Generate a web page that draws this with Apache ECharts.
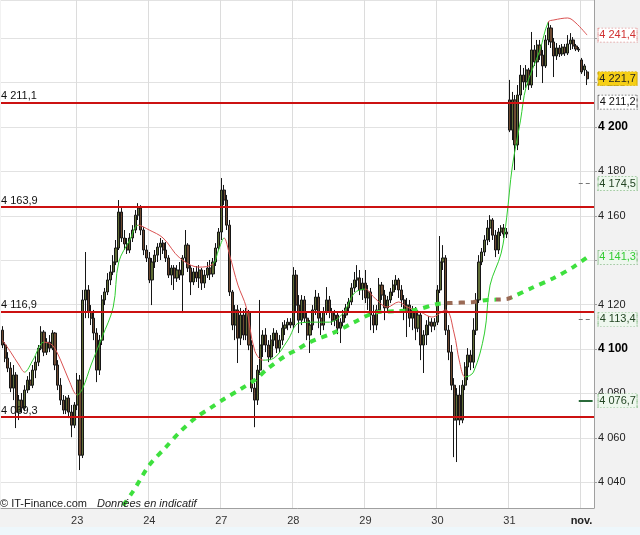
<!DOCTYPE html>
<html><head><meta charset="utf-8">
<script src="https://cdn.jsdelivr.net/npm/echarts@6/dist/echarts.min.js"></script>
<style>html,body{margin:0;padding:0;background:#f2f2f2}#c{width:640px;height:535px}</style>
</head><body><div id="c"></div>
<script>
// ---- data ----
const xLabels = ['23','24','27','28','29','30','31','nov.'];
const slotsPerDay = [27,26,26,26,26,26,26,26,5];
// [open, close, low, high]
const candles = [
[4108.5,4101.8,4100.4,4110.3],[4101.8,4095.9,4094.1,4103.1],[4095.9,4091.4,4089.6,4098.6],[4091.4,4082.4,4080.6,4094.1],
[4082.4,4088.3,4077.0,4092.8],[4088.3,4071.6,4064.4,4089.6],[4071.6,4077.0,4068.0,4079.3],[4077.0,4073.4,4071.2,4080.2],
[4073.4,4081.5,4072.0,4083.7],[4081.5,4086.0,4080.2,4087.8],[4086.0,4083.7,4081.5,4089.6],[4083.7,4090.5,4082.4,4092.8],
[4090.5,4094.1,4086.9,4096.8],[4094.1,4100.4,4092.3,4101.8],[4100.4,4107.6,4099.5,4110.3],[4107.6,4098.6,4096.8,4108.5],
[4098.6,4103.1,4097.3,4104.9],[4103.1,4100.4,4098.6,4106.3],[4100.4,4107.2,4099.5,4108.5],[4107.2,4092.8,4090.5,4107.6],
[4092.8,4083.7,4081.5,4095.0],[4083.7,4077.0,4074.8,4086.9],[4077.0,4072.5,4070.7,4079.3],[4072.5,4077.9,4070.7,4078.8],
[4077.9,4071.6,4068.9,4079.3],[4071.6,4065.7,4060.3,4074.8],[4065.7,4074.8,4064.4,4076.1],
// 23
[4074.8,4086.0,4072.5,4089.2],[4086.0,4052.2,4045.5,4088.3],[4052.2,4122.1,4050.9,4126.6],[4122.1,4126.6,4113.9,4143.7],
[4126.6,4116.6,4113.9,4128.8],[4116.6,4113.9,4110.8,4119.8],[4113.9,4107.2,4104.0,4117.6],[4107.2,4090.5,4085.1,4109.4],
[4090.5,4104.0,4088.3,4106.3],[4104.0,4122.1,4101.8,4124.3],[4122.1,4125.7,4119.8,4127.5],[4125.7,4131.1,4124.3,4134.2],
[4131.1,4134.7,4128.8,4137.8],[4134.7,4139.2,4133.3,4142.3],[4139.2,4145.5,4137.8,4149.1],[4145.5,4161.7,4144.6,4167.1],
[4161.7,4150.0,4148.2,4163.5],[4150.0,4147.3,4144.6,4153.6],[4147.3,4144.6,4142.8,4150.0],[4144.6,4150.0,4143.2,4152.2],
[4150.0,4153.6,4148.2,4155.8],[4153.6,4160.3,4152.2,4162.6],[4160.3,4163.5,4158.1,4165.7],[4163.5,4153.6,4151.3,4164.8],
[4153.6,4144.6,4142.3,4154.9],[4144.6,4141.0,4139.2,4146.8],
// 24
[4141.0,4131.1,4129.7,4143.7],[4131.1,4139.2,4119.8,4141.0],[4139.2,4142.3,4136.5,4144.6],[4142.3,4145.9,4139.2,4147.7],
[4145.9,4147.7,4140.1,4150.0],[4147.7,4144.6,4142.8,4149.1],[4144.6,4141.0,4139.2,4148.2],[4141.0,4133.3,4132.0,4142.3],
[4133.3,4136.5,4128.8,4137.8],[4136.5,4132.0,4126.6,4137.8],[4132.0,4135.6,4130.2,4137.8],[4135.6,4133.3,4131.1,4139.2],
[4133.3,4141.0,4116.2,4142.3],[4141.0,4146.8,4139.2,4153.6],[4146.8,4136.5,4134.7,4147.7],[4136.5,4130.2,4124.3,4137.8],
[4130.2,4134.7,4128.8,4136.5],[4134.7,4132.0,4130.2,4137.4],[4132.0,4135.6,4127.5,4137.8],[4135.6,4129.7,4126.6,4136.5],
[4129.7,4133.3,4127.5,4135.6],[4133.3,4136.5,4132.0,4139.2],[4136.5,4133.8,4131.1,4140.1],[4133.8,4139.2,4132.4,4141.0],
[4139.2,4145.5,4137.4,4147.7],[4145.5,4152.7,4144.6,4154.5],
// 27
[4152.7,4171.6,4149.1,4177.0],[4171.6,4167.1,4164.8,4173.9],[4167.1,4155.8,4153.6,4169.4],[4155.8,4125.7,4123.9,4158.1],
[4125.7,4110.8,4108.5,4126.6],[4110.8,4117.6,4104.0,4119.8],[4117.6,4104.9,4093.7,4119.8],[4104.9,4115.3,4101.8,4118.5],
[4115.3,4106.3,4104.0,4117.6],[4106.3,4116.6,4104.0,4118.5],[4116.6,4101.8,4099.5,4117.6],[4101.8,4082.4,4080.6,4104.0],
[4082.4,4077.0,4064.8,4084.7],[4077.0,4090.5,4074.8,4092.8],[4090.5,4101.8,4088.3,4122.1],[4101.8,4106.3,4096.4,4108.5],
[4106.3,4101.8,4098.6,4109.4],[4101.8,4096.4,4094.1,4104.0],[4096.4,4104.0,4095.0,4106.3],[4104.0,4107.2,4101.3,4109.4],
[4107.2,4100.4,4098.2,4108.5],[4100.4,4104.0,4098.6,4106.3],[4104.0,4109.4,4101.8,4112.1],[4109.4,4110.8,4106.3,4113.0],
[4110.8,4112.1,4108.5,4113.9],[4112.1,4110.8,4109.4,4113.9],
// 28
[4110.8,4133.3,4109.4,4136.9],[4133.3,4119.8,4116.2,4135.6],[4119.8,4113.0,4107.2,4124.3],[4113.0,4122.1,4110.8,4124.3],
[4122.1,4113.9,4112.1,4123.9],[4113.9,4106.3,4104.0,4116.6],[4106.3,4110.8,4098.2,4113.0],[4110.8,4117.6,4108.5,4119.8],
[4117.6,4123.4,4115.3,4126.6],[4123.4,4113.9,4109.4,4125.2],[4113.9,4110.8,4106.3,4116.6],[4110.8,4116.6,4108.5,4118.9],
[4116.6,4122.1,4115.3,4127.9],[4122.1,4116.6,4113.9,4123.9],[4116.6,4113.0,4110.8,4118.5],[4113.0,4115.3,4110.3,4117.6],
[4115.3,4109.4,4106.7,4116.6],[4109.4,4112.1,4102.7,4113.9],[4112.1,4115.3,4110.3,4117.6],[4115.3,4118.5,4113.9,4120.3],
[4118.5,4121.2,4116.6,4123.0],[4121.2,4127.5,4119.8,4129.7],[4127.5,4131.1,4125.7,4134.7],[4131.1,4132.0,4127.9,4137.8],
[4132.0,4126.6,4124.3,4135.6],[4126.6,4129.7,4122.1,4132.0],
// 29
[4129.7,4123.0,4120.7,4135.6],[4123.0,4125.7,4117.6,4128.8],[4125.7,4115.3,4108.5,4127.5],[4115.3,4110.8,4107.2,4119.8],
[4110.8,4117.6,4108.5,4119.8],[4117.6,4128.8,4116.2,4132.0],[4128.8,4124.3,4122.1,4130.2],[4124.3,4118.5,4113.0,4126.6],
[4118.5,4122.1,4116.6,4123.9],[4122.1,4125.7,4120.7,4127.5],[4125.7,4128.8,4123.9,4131.1],[4128.8,4131.1,4126.6,4133.3],
[4131.1,4126.6,4123.0,4132.0],[4126.6,4122.1,4118.9,4128.8],[4122.1,4116.6,4113.0,4124.3],[4116.6,4119.8,4105.4,4123.0],
[4119.8,4113.9,4109.9,4122.1],[4113.9,4117.6,4108.5,4119.4],[4117.6,4109.4,4104.0,4118.9],[4109.4,4115.3,4107.6,4117.6],
[4115.3,4101.8,4095.0,4116.6],[4101.8,4106.3,4089.2,4108.5],[4106.3,4110.8,4101.8,4113.0],[4110.8,4112.1,4106.3,4114.8],
[4112.1,4110.3,4107.6,4113.9],[4110.3,4112.1,4108.5,4113.9],
// 30
[4112.1,4126.6,4110.8,4128.8],[4126.6,4139.2,4125.2,4150.9],[4139.2,4141.0,4135.6,4146.8],[4141.0,4108.5,4106.3,4142.3],
[4108.5,4098.6,4095.0,4110.8],[4098.6,4083.7,4081.5,4101.8],[4083.7,4068.0,4051.3,4086.9],[4068.0,4079.3,4049.1,4082.4],
[4079.3,4068.0,4065.7,4083.7],[4068.0,4083.7,4066.6,4086.0],[4083.7,4091.9,4081.5,4094.1],[4091.9,4097.3,4086.0,4100.4],
[4097.3,4094.1,4090.5,4099.5],[4094.1,4108.5,4091.4,4113.9],[4108.5,4122.1,4106.3,4125.2],[4122.1,4139.2,4120.7,4142.3],
[4139.2,4143.7,4137.8,4145.5],[4143.7,4149.1,4141.9,4151.3],[4149.1,4154.5,4146.8,4158.1],[4154.5,4158.1,4148.2,4160.3],
[4158.1,4151.3,4149.1,4159.0],[4151.3,4144.6,4141.4,4153.6],[4144.6,4152.7,4142.8,4154.5],[4152.7,4154.5,4150.9,4155.8],
[4154.5,4151.8,4150.0,4156.3],[4151.8,4152.7,4150.0,4154.5],
// 31
[4212.2,4198.6,4197.7,4221.2],[4198.6,4212.2,4194.1,4215.8],[4212.2,4191.9,4180.6,4214.4],[4191.9,4214.4,4189.6,4218.9],
[4214.4,4223.4,4212.2,4227.9],[4223.4,4220.3,4216.7,4226.6],[4220.3,4225.7,4217.6,4227.9],[4225.7,4218.9,4216.7,4226.6],
[4218.9,4234.7,4217.6,4242.8],[4234.7,4229.3,4227.5,4236.9],[4229.3,4236.9,4222.5,4239.2],[4236.9,4232.4,4230.2,4239.2],
[4232.4,4227.5,4219.8,4234.7],[4227.5,4239.2,4226.6,4241.4],[4239.2,4244.6,4236.9,4247.3],[4244.6,4238.3,4235.6,4245.9],
[4238.3,4232.0,4222.5,4240.1],[4232.0,4235.6,4230.2,4237.8],[4235.6,4232.9,4231.5,4236.9],[4232.9,4236.0,4232.0,4237.4],
[4236.0,4233.3,4232.0,4237.4],[4233.3,4237.4,4232.4,4241.4],[4237.4,4239.2,4234.7,4242.3],[4239.2,4236.5,4235.1,4240.5],
[4236.5,4235.1,4234.2,4237.4],[4235.1,4234.7,4233.8,4236.0],
// nov. 3
[4230.2,4224.8,4223.9,4231.1],[4225.7,4227.5,4223.0,4228.4],[4224.8,4221.7,4218.9,4225.7]
];
// short moving average, [slot, value]
const maShort = [
[0,4104.0],[3,4098.6],[6,4092.8],[8,4089.6],[11,4095.0],[15,4103.1],[18,4101.8],[21,4095.0],[24,4086.0],[27,4079.3],
[29,4082.4],[32,4092.8],[36,4105.4],[40,4118.9],[42,4139.2],[46,4149.1],[49,4155.8],[53,4153.6],[58,4150.0],[64,4141.0],
[71,4136.9],[76,4138.3],[78,4144.6],[80,4150.0],[82,4142.3],[85,4128.8],[88,4118.9],[91,4099.5],[94,4095.0],[98,4095.9],
[103,4104.0],[107,4111.7],[113,4112.1],[118,4112.1],[123,4116.2],[127,4125.2],[131,4127.0],[134,4123.4],[139,4118.9],
[143,4121.2],[146,4118.9],[151,4116.6],[155,4114.4],[160,4117.6],[163,4107.2],[165,4094.1],[167,4087.4],[170,4089.6],
[174,4107.2],[176,4128.8],[180,4143.2],[182,4159.4],[184,4182.0],[187,4203.1],[189,4218.0],[194,4234.7],[197,4247.3],
[199,4248.2],[204,4249.1],[207,4246.8],[211,4241.4]
];
// long moving average, [slot, value]
const maLong = [
[41,4025.2],[47,4035.6],[53,4047.7],[59,4055.8],[64,4062.6],[70,4069.3],[75,4073.4],[80,4077.5],[86,4082.0],[91,4086.0],
[96,4091.4],[102,4096.8],[106,4099.5],[111,4103.1],[120,4107.6],[127,4112.1],[134,4116.2],[142,4117.1],[149,4117.6],
[157,4120.3],[161,4120.7],[170,4121.2],[175,4122.1],[182,4122.5],[184,4123.4],[191,4127.5],[199,4132.0],[206,4136.9],[211,4141.3]
];
const levels = [4211.1, 4163.9, 4116.9, 4069.3];
const sideValues = [4241.4, 4221.7, 4211.2, 4174.5, 4141.3, 4113.4, 4076.7];

// ---- styles ----
const sideStyles = [
 {bg:'#ffffff', border:'#e39a9a', text:'#d03030'},
 {bg:'#f6cf16', border:'#c9a200', text:'#222'},
 {bg:'#ffffff', border:'#666666', text:'#111'},
 {bg:'#eef7ee', border:'#8cbf8c', text:'#224422'},
 {bg:'#eef7ee', border:'#8cbf8c', text:'#33cc33'},
 {bg:'#eef7ee', border:'#8cbf8c', text:'#224422'},
 {bg:'#eef7ee', border:'#8cbf8c', text:'#224422'}
];
const FONT = 'Liberation Sans, Arial, sans-serif';
function fr(v, d){
  const s = v.toFixed(d); const p = s.split('.');
  const i = p[0].replace(/\B(?=(\d{3})+(?!\d))/g, ' ');
  return p[1] ? i + ',' + p[1] : i;
}
const nSlots = slotsPerDay.reduce((a,b)=>a+b,0);
const categories = [];
const dayStarts = [];
let acc = 0;
slotsPerDay.forEach((n, d) => { if (d > 0) dayStarts.push(acc); for (let k=0;k<n;k++) categories.push(d + '-' + k); acc += n; });
const tickFrom = nSlots - 6;

const chart = echarts.init(document.getElementById('c'), null, {renderer:'canvas'});
const RED = '#d95050', GRN = '#2ecc2e';
chart.setOption({
  backgroundColor: '#f2f2f2',
  animation: false,
  textStyle: {fontFamily: FONT},
  title: {
    left: 0, top: 495, padding: 0,
    text: '{a|© IT-Finance.com}  {b|Données en indicatif}',
    textStyle: {fontWeight: 'normal', rich: {a:{fontSize:11, color:'#222', fontWeight:'normal', fontFamily:FONT}, b:{fontSize:11, color:'#222', fontWeight:'normal', fontStyle:'italic', fontFamily:FONT}}}
  },
  graphic: [{type:'rect', left:0, top:527, shape:{width:640, height:8}, style:{fill:'#eef7fb'}, silent:true}],
  grid: {left: 1, right: 46, top: 0, bottom: 27, show: true, backgroundColor: '#ffffff', borderWidth: 0},
  xAxis: {
    type: 'category', data: categories, boundaryGap: true,
    axisLine: {show: true, lineStyle: {color: '#a0a0a0'}},
    axisTick: {show: false},
    axisLabel: {
      interval: (i) => dayStarts.indexOf(i) >= 0,
      formatter: (v, i) => { const k = dayStarts.indexOf(i); const t = xLabels[k] || ''; return k === xLabels.length-1 ? '{b|'+t+'}' : t; },
      fontSize: 11, color: '#333', margin: 7, fontFamily: FONT,
      rich: {b: {fontWeight: 'bold', fontSize: 11, color: '#222', fontFamily: FONT}}
    },
    splitLine: {show: true, interval: (i) => dayStarts.indexOf(i) >= 0, lineStyle: {color: '#dcdcdc', width: 1}}
  },
  yAxis: {
    type: 'value', position: 'right', min: 4028.4, max: 4257.2, splitNumber: 11, minInterval: 20, maxInterval: 20,
    axisLine: {show: true, lineStyle: {color: '#a0a0a0'}},
    axisTick: {show: true, length: 3, lineStyle: {color: '#a0a0a0'}},
    axisLabel: {
      margin: 4, fontSize: 11, color: '#222', fontFamily: FONT, showMinLabel: false, showMaxLabel: false,
      formatter: (v) => {
        if (Math.abs(v/20 - Math.round(v/20)) > 1e-6) return '';
        const s = fr(v, 0);
        return Math.round(v) % 100 === 0 ? '{b|' + s + '}' : s;
      },
      rich: {b: {fontWeight: 'bold', fontSize: 12, color: '#000', fontFamily: FONT}}
    },
    splitLine: {show: true, lineStyle: {color: '#e2e2e2'}}
  },
  visualMap: [
    {type:'piecewise', show:false, seriesIndex:1, dimension:0, pieces:[
      {lt:8, color:RED},{gte:8, lt:15, color:GRN},{gte:15, lt:27, color:RED},{gte:27, lt:49, color:GRN},
      {gte:49, lt:76, color:RED},{gte:76, lt:80, color:GRN},{gte:80, lt:94, color:RED},{gte:94, lt:131, color:GRN},
      {gte:131, lt:167, color:RED},{gte:167, lt:197, color:GRN},{gte:197, color:RED}]},
    {type:'piecewise', show:false, seriesIndex:2, dimension:0, pieces:[
      {lt:160, color:'#3ee03e'},{gte:160, lt:172, color:'#9a6a55'},{gte:172, lt:178, color:'#3ee03e'},
      {gte:178, lt:184, color:'#9a6a55'},{gte:184, color:'#3ee03e'}]}
  ],
  series: [
    {
      type: 'candlestick', data: candles, barWidth: 2.6, z: 2,
      itemStyle: {color: '#5f6d36', color0: '#6e4a32', borderColor: '#161616', borderColor0: '#161616', borderWidth: 1},
      markLine: {
        silent: true, symbol: ['none','none'], animation: false,
        data: levels.map(v => ({yAxis: v, lineStyle: {color: '#cc1111', width: 2, type: 'solid'},
          label: {show: true, position: 'insideStartTop', formatter: fr(v,1), color: '#111', fontSize: 11, fontFamily: FONT, distance: [0, 1]}}))
          .concat([
            [{coord:[tickFrom, sideValues[3]], lineStyle:{color:'#777', width:1, type:[4,3]}, label:{show:false}}, {coord:[nSlots-1, sideValues[3]]}],
            [{coord:[tickFrom, sideValues[5]], lineStyle:{color:'#777', width:1, type:[4,3]}, label:{show:false}}, {coord:[nSlots-1, sideValues[5]]}],
            [{coord:[tickFrom, sideValues[6]], lineStyle:{color:'#2a6a3a', width:2, type:'solid'}, label:{show:false}}, {coord:[nSlots-1, sideValues[6]]}]
          ])
      },
      markPoint: {
        silent: true, animation: false,
        data: sideValues.map((v, i) => ({
          coord: [nSlots-1, v], symbol: 'rect', symbolSize: [39, 14], symbolOffset: [25, 0],
          itemStyle: {color: sideStyles[i].bg, borderColor: sideStyles[i].border, borderWidth: 1, borderType: 'dotted'},
          label: {show: true, position: 'inside', formatter: fr(v,1), color: sideStyles[i].text, fontSize: 11, fontFamily: FONT}
        }))
      }
    },
    {
      type: 'line', data: maShort, symbol: 'none', smooth: 0.35, z: 3,
      lineStyle: {width: 1}
    },
    {
      type: 'line', data: maLong, symbol: 'none', smooth: 0.3, z: 4,
      lineStyle: {width: 4, type: [6, 6], cap: 'butt'}
    }
  ]
});
</script>
</body></html>
